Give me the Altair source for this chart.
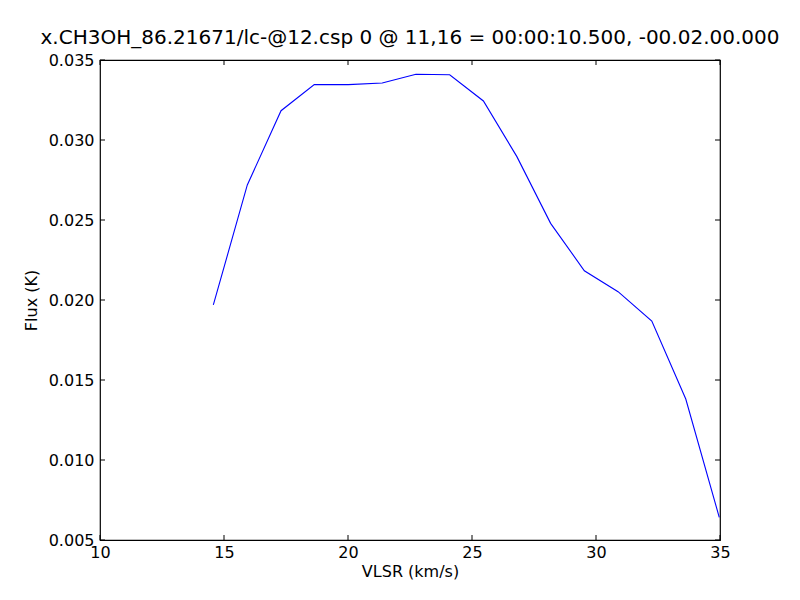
import altair as alt
import pandas as pd

vlsr = [14.57, 15.94, 17.30, 18.64, 20.01, 21.38, 22.74, 24.10,
        25.46, 26.81, 28.17, 29.53, 30.89, 32.25, 33.62, 34.97]
flux = [0.01969, 0.02719, 0.03183, 0.03346, 0.03346, 0.03356, 0.03411, 0.03408,
        0.03244, 0.02896, 0.02479, 0.02183, 0.02052, 0.01869, 0.01381, 0.00642]
x_ticks = [10, 15, 20, 25, 30, 35]
y_ticks = [0.005, 0.010, 0.015, 0.020, 0.025, 0.030, 0.035]

W, H = 620, 480
FONT = "DejaVu Sans"
LS = 16

df = pd.DataFrame({"v": vlsr, "f": flux})
xt = pd.DataFrame({"v": x_ticks})
yt = pd.DataFrame({"f": y_ticks})

xscale = alt.Scale(domain=[10, 35], nice=False, zero=False)
yscale = alt.Scale(domain=[0.005, 0.035], nice=False, zero=False)

common = dict(tickSize=0, grid=False, domain=False, labelFlush=False,
              labelFont=FONT, titleFont=FONT, labelFontSize=LS, titleFontSize=LS,
              labelColor="black", titleColor="black", titleFontWeight="normal")

line = alt.Chart(df).mark_line(color="#0000ff", strokeWidth=1.1).encode(
    x=alt.X("v:Q", scale=xscale, title="VLSR (km/s)",
            axis=alt.Axis(values=x_ticks, format="d", labelPadding=4,
                          titlePadding=3, **common)),
    y=alt.Y("f:Q", scale=yscale, title="Flux (K)",
            axis=alt.Axis(values=y_ticks, format=".3f", labelPadding=6,
                          titlePadding=9, **common)),
)

tl = 5
xt_bot = alt.Chart(xt).mark_rule(color="black", strokeWidth=1).encode(
    x=alt.X("v:Q", scale=xscale), y=alt.value(H), y2=alt.value(H - tl))
xt_top = alt.Chart(xt).mark_rule(color="black", strokeWidth=1).encode(
    x=alt.X("v:Q", scale=xscale), y=alt.value(0), y2=alt.value(tl))
yt_left = alt.Chart(yt).mark_rule(color="black", strokeWidth=1).encode(
    y=alt.Y("f:Q", scale=yscale), x=alt.value(0), x2=alt.value(tl))
yt_right = alt.Chart(yt).mark_rule(color="black", strokeWidth=1).encode(
    y=alt.Y("f:Q", scale=yscale), x=alt.value(W), x2=alt.value(W - tl))

chart = alt.layer(line, xt_bot, xt_top, yt_left, yt_right).properties(
    width=W, height=H,
    background="white",
    title=alt.Title("x.CH3OH_86.21671/lc-@12.csp 0 @ 11,16 = 00:00:10.500, -00.02.00.000",
                    fontSize=20, font=FONT, fontWeight="normal", anchor="middle",
                    offset=4, color="black"),
    autosize=alt.AutoSizeParams(type="none"),
    padding={"left": 92, "top": 52, "right": 72, "bottom": 52},
).configure_view(stroke="black", strokeWidth=1.2)

chart.save("out.html", embed_options={"renderer": "svg", "actions": False})
